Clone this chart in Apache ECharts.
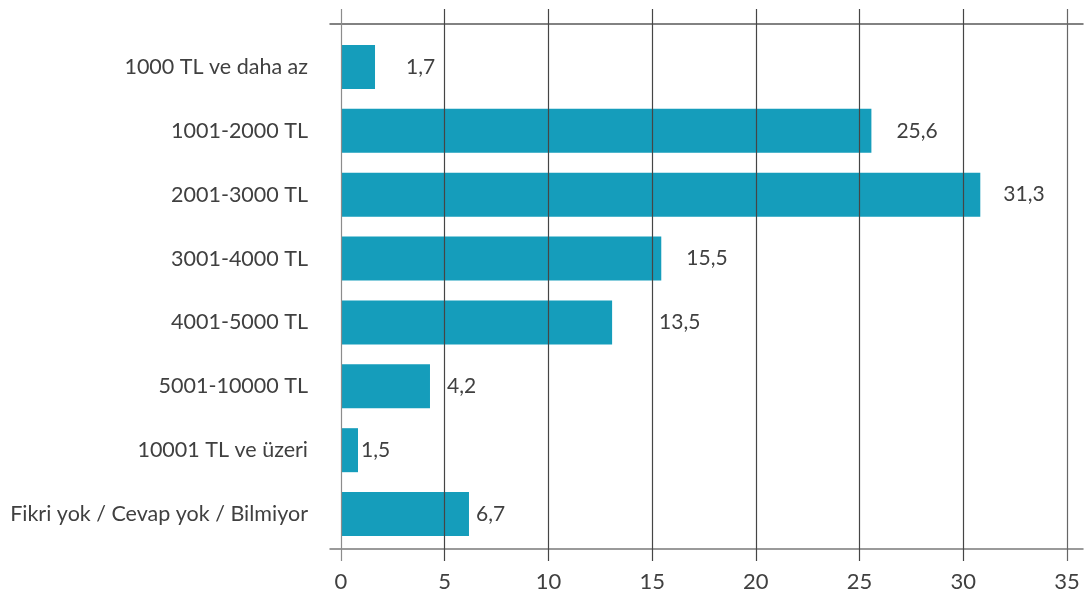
<!DOCTYPE html>
<html lang="tr">
<head>
    <meta charset="UTF-8">
    <title>Gelir dağılımı</title>
    <style>
        html, body { margin: 0; padding: 0; background: #fff; }
        #container { width: 1085px; height: 598px; }
    </style>
</head>
<body>
    <div id="container"></div>
    <script src="https://cdn.jsdelivr.net/npm/echarts@6/dist/echarts.min.js"></script>
    <script>
        // veriler
        const categories = [
            '1000 TL ve daha az',
            '1001-2000 TL',
            '2001-3000 TL',
            '3001-4000 TL',
            '4001-5000 TL',
            '5001-10000 TL',
            '10001 TL ve üzeri',
            'Fikri yok / Cevap yok / Bilmiyor'
        ];
        // bar lengths as drawn in the picture
        const barValues = [1.64, 25.57, 30.82, 15.44, 13.07, 4.29, 0.82, 6.17];
        // printed value labels
        const valueLabels = ['1,7', '25,6', '31,3', '15,5', '13,5', '4,2', '1,5', '6,7'];
        const xTicks = [0, 5, 10, 15, 20, 25, 30, 35];

        // label gap after each bar (px)
        const labelGap = [31, 25, 23, 25, 47, 17, 3, 7];

        const textColor = '#404040';
        const fontFamily = 'Lato, "Open Sans", sans-serif';

        const option = {
            animation: false,
            textStyle: { fontFamily: fontFamily },
            grid: [
                { left: 341, right: 18, top: 35, bottom: 52 },   // bars
                { left: 330, right: 2, top: 24, bottom: 49 },    // frame lines
                { left: 341, right: 18, top: 9, bottom: 37 }     // vertical grid lines
            ],
            xAxis: [
                { gridIndex: 0, type: 'value', min: 0, max: 35, show: false },
                {
                    gridIndex: 1, type: 'value', min: 0, max: 1, position: 'bottom',
                    axisLine: { show: true, lineStyle: { color: '#7a7a7a', width: 1.5 } },
                    axisTick: { show: false }, axisLabel: { show: false }, splitLine: { show: false }
                },
                {
                    gridIndex: 1, type: 'value', min: 0, max: 1, position: 'top',
                    axisLine: { show: true, lineStyle: { color: '#5a5a5a', width: 1.5 } },
                    axisTick: { show: false }, axisLabel: { show: false }, splitLine: { show: false }
                },
                {
                    gridIndex: 2, type: 'value',
                    min: xTicks[0], max: xTicks[xTicks.length - 1], interval: 5,
                    z: 3,
                    axisLine: { show: false },
                    axisTick: { show: false },
                    axisLabel: { color: textColor, fontSize: 22, margin: 10, fontFamily: fontFamily },
                    splitLine: {
                        show: true,
                        lineStyle: {
                            color: ['#8c8c8c', '#454545', '#454545', '#454545', '#454545', '#454545', '#454545', '#666666'],
                            width: 1.2
                        }
                    }
                }
            ],
            yAxis: [
                {
                    gridIndex: 0, type: 'category', data: categories, inverse: true,
                    axisLine: { show: false }, axisTick: { show: false },
                    axisLabel: { color: textColor, fontSize: 21.5, margin: 33, fontFamily: fontFamily }
                },
                { gridIndex: 1, type: 'value', show: false },
                { gridIndex: 2, type: 'value', show: false }
            ],
            series: [
                {
                    type: 'bar',
                    xAxisIndex: 0,
                    yAxisIndex: 0,
                    barWidth: 44,
                    itemStyle: { color: '#159DBB' },
                    data: barValues.map((v, i) => ({
                        value: v,
                        label: { distance: labelGap[i] }
                    })),
                    label: {
                        show: true,
                        position: 'right',
                        color: textColor,
                        fontSize: 21,
                        fontFamily: fontFamily,
                        formatter: p => valueLabels[p.dataIndex]
                    }
                }
            ]
        };

        const chart = echarts.init(document.getElementById('container'));
        chart.setOption(option);
    </script>
</body>
</html>
